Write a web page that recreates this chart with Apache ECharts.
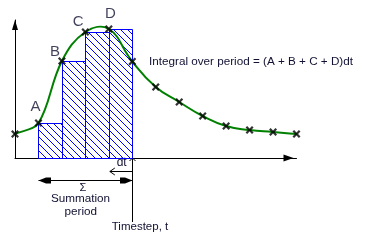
<!DOCTYPE html>
<html><head><meta charset="utf-8">
<script src="https://cdn.jsdelivr.net/npm/echarts@6/dist/echarts.min.js"></script>
<style>html,body{margin:0;padding:0;background:#fff}#c{width:366px;height:244px}</style>
</head><body><div id="c"></div>
<script>
// ---- data ----
const timesteps = [0, 1, 2, 3, 4, 5, 6, 7, 8, 9, 10, 11, 12];
const values = [24, 35, 97, 126, 129, 96.5, 71, 56, 42, 32, 28, 26, 24];
const barNames = ['A', 'B', 'C', 'D'];
const barStarts = [1, 2, 3, 4];
const barEnds = [2, 3, 4, 5];
const yMax = 138;
const integralText = 'Integral over period = (A + B + C + D)dt';
const dtText = 'dt';
const sigmaText = 'Σ';
const summationText = ['Summation', 'period'];
const timestepText = 'Timestep, t';

// ---- styles ----
const FONT = '"Liberation Sans", Arial, sans-serif';
const TXT = '#111133';
const labelOffsets = { A: [-3, -16.5], B: [-7, -9.6], C: [-7.2, -10.3], D: [1.5, -15] };
const TENSION = 0.25;

const hatch = document.createElement('canvas');
hatch.width = 7; hatch.height = 7;
const hg = hatch.getContext('2d');
hg.fillStyle = '#0000ff';
for (let i = 0; i < 7; i++) hg.fillRect(i, i, 1, 1);

const crossPath = 'path://M0,2L2,0L5,3L8,0L10,2L7,5L10,8L8,10L5,7L2,10L0,8L3,5Z';

const points = timesteps.map((t, i) => [t, values[i]]);
const markerData = timesteps.map((t, i) => {
  const bi = barStarts.indexOf(t);
  const item = { value: [t, values[i]] };
  if (bi >= 0) {
    const name = barNames[bi];
    item.label = { show: true, formatter: name, position: 'inside', offset: labelOffsets[name],
      fontSize: 15, fontFamily: FONT, color: TXT };
  }
  return item;
});
const barData = barStarts.map((s, i) => [s, barEnds[i], values[timesteps.indexOf(s)], barNames[i]]);

// spline helpers (pixel space)
const dist = (a, b) => Math.hypot(b[0] - a[0], b[1] - a[1]);
function ctrl(prev, cur, next) {
  const tx = (next[0] - prev[0]) * TENSION, ty = (next[1] - prev[1]) * TENSION;
  const dp = dist(prev, cur), dn = dist(cur, next);
  const si = Math.min(1, dp / dn), so = Math.min(1, dn / dp);
  return { cin: [cur[0] - tx * si, cur[1] - ty * si], cout: [cur[0] + tx * so, cur[1] + ty * so] };
}

const chart = echarts.init(document.getElementById('c'), null, { renderer: 'canvas' });
chart.setOption({
  animation: false,
  backgroundColor: '#ffffff',
  grid: { left: 15, right: 69.5, top: 20, bottom: 86, containLabel: false, outerBoundsMode: 'none' },
  xAxis: {
    type: 'value', min: 0, max: 12,
    axisLine: { show: true, onZero: true, lineStyle: { color: '#000', width: 1 },
      symbol: ['none', 'triangle'], symbolSize: [7, 10], symbolOffset: [0, -8] },
    axisTick: { show: false }, axisLabel: { show: false }, splitLine: { show: false }
  },
  yAxis: {
    type: 'value', min: 0, max: yMax,
    axisLine: { show: true, lineStyle: { color: '#000', width: 1 },
      symbol: ['none', 'triangle'], symbolSize: [6, 10], symbolOffset: [0, -5] },
    axisTick: { show: false }, axisLabel: { show: false }, splitLine: { show: false }
  },
  series: [
    {
      type: 'custom', z: 1, clip: false,
      data: barData,
      renderItem: function (params, api) {
        const top = api.coord([api.value(0), api.value(2)]);
        const bot = api.coord([api.value(1), 0]);
        const x0 = Math.round(top[0]) + 0.5, x1 = Math.round(bot[0]) + 0.5;
        const y0 = Math.round(top[1]) + 0.5, y1 = Math.round(bot[1]) + 0.5;
        return {
          type: 'rect',
          shape: { x: x0, y: y0, width: x1 - x0, height: y1 - y0 },
          style: { fill: { image: hatch, repeat: 'repeat' }, stroke: '#0000ff', lineWidth: 1 }
        };
      }
    },
    {
      type: 'custom', z: 3, clip: false,
      data: points,
      renderItem: function (params, api) {
        const n = params.dataInsideLength;
        const i = params.dataIndexInside;
        if (i >= n - 1) return null;
        const get = j => { j = Math.max(0, Math.min(n - 1, j)); return api.coord([api.value(0, j), api.value(1, j)]); };
        const p0 = get(i - 1), p1 = get(i), p2 = get(i + 1), p3 = get(i + 2);
        const c1 = i === 0 ? [p1[0] + (p2[0] - p1[0]) / 3, p1[1] + (p2[1] - p1[1]) / 3] : ctrl(p0, p1, p2).cout;
        const c2 = i + 1 === n - 1 ? [p2[0] + (p1[0] - p2[0]) / 3, p2[1] + (p1[1] - p2[1]) / 3] : ctrl(p1, p2, p3).cin;
        return {
          type: 'bezierCurve',
          shape: { x1: p1[0], y1: p1[1], x2: p2[0], y2: p2[1], cpx1: c1[0], cpy1: c1[1], cpx2: c2[0], cpy2: c2[1] },
          style: { stroke: '#008000', lineWidth: 2, fill: null, lineCap: 'round' }
        };
      }
    },
    {
      type: 'scatter', z: 4, clip: false,
      data: markerData,
      symbol: crossPath, symbolSize: 8,
      itemStyle: { color: '#000' },
      emphasis: { disabled: true }
    }
  ]
});

const P = (x, y) => chart.convertToPixel({ gridIndex: 0 }, [x, y]);
const xA = Math.round(P(barStarts[0], 0)[0]) + 0.5;
const xD = P(barStarts[3], 0)[0];
const xs = Math.round(P(barEnds[3], 0)[0]) + 0.5;
const y0 = P(0, 0)[1];
const ln = { stroke: '#000', lineWidth: 1, fill: null };
const txt = (text, x, y, size, align) => ({ type: 'text', x: x, y: y,
  style: { text: text, fontSize: size, fontFamily: FONT, fill: TXT, align: align || 'center', verticalAlign: 'middle' } });
const yDt = 171.5, ySum = 180.5;

chart.setOption({
  graphic: [
    { type: 'line', shape: { x1: xs, y1: y0, x2: xs, y2: 222 }, style: ln },
    { type: 'polyline', shape: { points: [[xs - 3, y0 + 3], [xs, y0], [xs + 3, y0 + 3]] }, style: ln },
    { type: 'line', shape: { x1: xD + 1, y1: yDt, x2: xs, y2: yDt }, style: ln },
    { type: 'polyline', shape: { points: [[xD + 6, yDt - 3.5], [xD + 1, yDt], [xD + 6, yDt + 3.5]] }, style: ln },
    { type: 'line', shape: { x1: xA, y1: ySum, x2: xs, y2: ySum }, style: ln },
    { type: 'polygon', shape: { points: [[xs, ySum], [xs - 7.5, ySum - 3], [xs - 12.5, ySum - 3], [xs - 12.5, ySum + 3], [xs - 7.5, ySum + 3]] }, style: { fill: '#000' } },
    { type: 'polygon', shape: { points: [[xA, ySum], [xA + 7.5, ySum - 3], [xA + 12.5, ySum - 3], [xA + 12.5, ySum + 3], [xA + 7.5, ySum + 3]] }, style: { fill: '#000' } },
    txt(integralText, 149, 61.7, 11.7, 'left'),
    txt(dtText, 121.7, 162.5, 12),
    txt(sigmaText, 83, 188, 11),
    txt(summationText[0], 80.5, 198.7, 11.7),
    txt(summationText[1], 80.8, 212, 11.7),
    txt(timestepText, 140, 226.7, 11.5)
  ]
});
</script>
</body></html>
